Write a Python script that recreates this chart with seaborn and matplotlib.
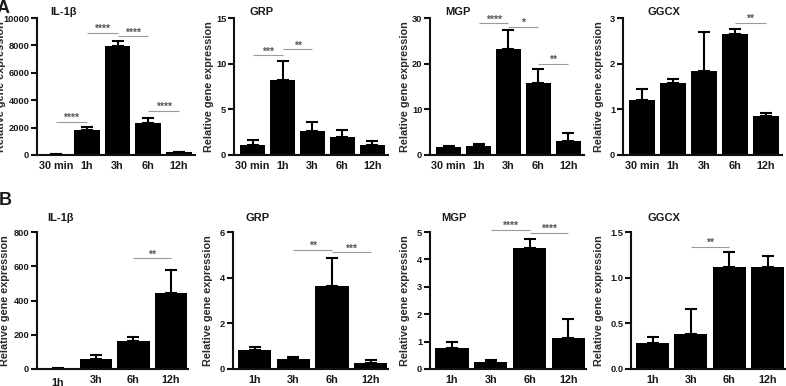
import matplotlib
matplotlib.use("Agg")
import matplotlib.pyplot as plt
import seaborn as sns
import numpy as np
import pandas as pd

# ---------------- data ----------------
times_a = ["30 min", "1h", "3h", "6h", "12h"]
times_b = ["1h", "3h", "6h", "12h"]

genes = ["IL-1β", "GRP", "MGP", "GGCX"]

# Row A (means, upper SEM)
a_il1b = [30, 1800, 7980, 2370, 200]
a_il1b_err = [10, 270, 340, 360, 30]
a_grp = [1.1, 8.24, 2.64, 1.98, 1.1]
a_grp_err = [0.55, 2.06, 0.99, 0.77, 0.47]
a_mgp = [1.75, 2.05, 23.3, 15.7, 3.07]
a_mgp_err = [0.2, 0.35, 4.0, 3.2, 1.7]
a_ggcx = [1.21, 1.57, 1.85, 2.65, 0.85]
a_ggcx_err = [0.23, 0.09, 0.84, 0.12, 0.06]

# Row B
b_il1b = [2, 57, 166, 441]
b_il1b_err = [1, 25, 21, 135]
b_grp = [0.85, 0.44, 3.62, 0.28]
b_grp_err = [0.13, 0.10, 1.25, 0.12]
b_mgp = [0.78, 0.24, 4.42, 1.13]
b_mgp_err = [0.22, 0.09, 0.31, 0.69]
b_ggcx = [0.29, 0.38, 1.12, 1.12]
b_ggcx_err = [0.06, 0.28, 0.16, 0.12]

# y-axis limits / ticks
a_ylims = [10000, 15, 30, 3]
a_yticks = [[0, 2000, 4000, 6000, 8000, 10000], [0, 5, 10, 15], [0, 10, 20, 30], [0, 1, 2, 3]]
b_ylims = [800, 6, 5, 1.5]
b_yticks = [[0, 200, 400, 600, 800], [0, 2, 4, 6], [0, 1, 2, 3, 4, 5], [0.0, 0.5, 1.0, 1.5]]
b_ytick_labels = [None, None, None, ["0.0", "0.5", "1.0", "1.5"]]

# significance brackets: (i, j, height, label)
a_sig = [
    [(0, 1, 2440, "****"), (1, 2, 8930, "****"), (2, 3, 8680, "****"), (3, 4, 3220, "****")],
    [(0, 1, 10.9, "***"), (1, 2, 11.6, "**")],
    [(1, 2, 28.9, "****"), (2, 3, 28.1, "*"), (3, 4, 20.0, "**")],
    [(3, 4, 2.9, "**")],
]
b_sig = [
    [(2, 3, 648, "**")],
    [(1, 2, 5.23, "**"), (2, 3, 5.12, "***")],
    [(1, 2, 5.08, "****"), (2, 3, 4.98, "****")],
    [(1, 2, 1.34, "**")],
]

# ---------------- style ----------------
sns.set_style("ticks")
plt.rcParams["font.family"] = ["Liberation Sans", "DejaVu Sans"]
plt.rcParams["font.weight"] = "bold"

W, H = 786, 386
fig = plt.figure(figsize=(W / 100, H / 100), dpi=100)

# axes pixel boxes: (left, right, top, bottom)
a_boxes = [(37, 195, 18, 155), (234, 388, 18, 155), (430, 584, 18, 155), (623, 782, 18, 155)]
b_boxes = [(37, 188, 232, 369), (233, 388, 232, 369), (430, 586, 232, 369), (631, 785, 232, 369)]
a_ylabel_x = [1, 209, 405, 599]
b_ylabel_x = [5, 208, 405, 599]
a_title_dx = [13, 16, 15, 24]
b_title_dx = [10, 12, 11, 16]

TXT = "#1a1a1a"


def make_axes(box):
    l, r, t, b = box
    return fig.add_axes([l / W, 1 - b / H, (r - l) / W, (b - t) / H])


def draw_panel(ax, cats, vals, errs, ylim, yticks, ytl, sig, title, xlim, width,
               ylabel_x, title_dx, title_dy):
    df = pd.DataFrame({"time": cats, "value": vals})
    sns.barplot(data=df, x="time", y="value", order=cats, color="black",
                width=width, edgecolor="black", linewidth=0, errorbar=None,
                saturation=1, ax=ax)
    x = np.arange(len(cats))
    ax.errorbar(x, vals, yerr=[np.zeros(len(errs)), errs], fmt="none",
                ecolor="black", elinewidth=1.5, capsize=4.3, capthick=1.5, zorder=1)
    ax.set_xlim(*xlim)
    ax.set_ylim(0, ylim)
    ax.set_yticks(yticks)
    if ytl is not None:
        ax.set_yticklabels(ytl)
    for s in ["top", "right"]:
        ax.spines[s].set_visible(False)
    for s in ["left", "bottom"]:
        ax.spines[s].set_linewidth(1.5)
        ax.spines[s].set_color("#111111")
    ax.tick_params(axis="y", length=4, width=1.5, pad=1.5, labelsize=6.7,
                   colors="#111111", labelcolor=TXT)
    ax.tick_params(axis="x", length=0, pad=4, labelsize=7.8, labelcolor=TXT)
    for lab in ax.get_xticklabels() + ax.get_yticklabels():
        lab.set_fontweight("bold")
    ax.set_xlabel("")
    ax.set_ylabel("Relative gene expression", fontsize=7.8, fontweight="bold",
                  color="#2a2a2a")
    ax.yaxis.label.set_verticalalignment("center")
    cy = (ax.get_position().y0 + ax.get_position().y1) / 2
    ax.yaxis.set_label_coords(ylabel_x / W, cy, transform=fig.transFigure)
    ax.annotate(title, xy=(0, 1), xycoords="axes fraction",
                xytext=(title_dx * 0.72, title_dy * 0.72), textcoords="offset points",
                ha="left", va="center", fontsize=8, fontweight="bold", color=TXT)
    for (i, j, h, lab) in sig:
        ax.plot([i, j], [h, h], color="#9a9a9a", lw=0.8, solid_capstyle="butt",
                clip_on=False, zorder=3)
        ax.annotate(lab, xy=((i + j) / 2, h), xycoords="data", xytext=(0, -1.0),
                    textcoords="offset points", ha="center", va="bottom",
                    fontsize=7.5, color="#555555", annotation_clip=False)


a_vals = [a_il1b, a_grp, a_mgp, a_ggcx]
a_errs = [a_il1b_err, a_grp_err, a_mgp_err, a_ggcx_err]
b_vals = [b_il1b, b_grp, b_mgp, b_ggcx]
b_errs = [b_il1b_err, b_grp_err, b_mgp_err, b_ggcx_err]

for k in range(4):
    ax = make_axes(a_boxes[k])
    draw_panel(ax, times_a, a_vals[k], a_errs[k], a_ylims[k], a_yticks[k], None,
               a_sig[k], genes[k], (-0.62, 4.52), 0.84, a_ylabel_x[k],
               a_title_dx[k], 6)

for k in range(4):
    ax = make_axes(b_boxes[k])
    draw_panel(ax, times_b, b_vals[k], b_errs[k], b_ylims[k], b_yticks[k],
               b_ytick_labels[k], b_sig[k], genes[k], (-0.56, 3.45), 0.86,
               b_ylabel_x[k], b_title_dx[k], 14)
    if k == 0:
        ax.xaxis.get_major_ticks()[0].set_pad(6.5)

fig.text(-0.004, 1.0, "A", fontsize=13, fontweight="bold", color=TXT,
         ha="left", va="top")
fig.text(-0.002, 1 - 192 / H, "B", fontsize=13, fontweight="bold", color=TXT,
         ha="left", va="top")

fig.savefig("out.png", dpi=100)
